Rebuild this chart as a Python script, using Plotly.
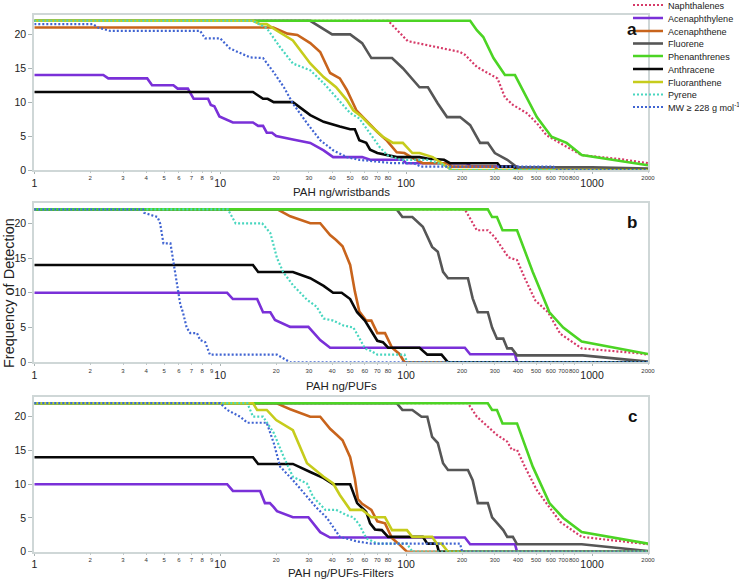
import plotly.graph_objects as go

# ---------------- data (x = PAH ng, y = frequency of detection) ----------------
NAMES = ["Naphthalenes", "Acenaphthylene", "Acenaphthene", "Fluorene", "Phenanthrenes",
         "Anthracene", "Fluoranthene", "Pyrene", "MW ≥ 228 g mol<sup>-1</sup>"]
COLORS = ["#d63a68", "#7a30d8", "#c8641c", "#565656", "#4cd424",
          "#080808", "#c6cc1c", "#48d6bf", "#4064d2"]
DASHES = ["2px,2px", "solid", "solid", "solid", "solid", "solid", "solid", "2px,2px", "2px,2px"]

# Panel a: wristbands
a_naph_x = [1, 80, 102, 130, 195, 207, 240, 310, 340, 375, 445, 505, 570, 700, 880, 1420, 2000]
a_naph_y = [22, 22, 19, 18.4, 17.4, 17, 15.2, 13.5, 10.7, 9.6, 8.4, 6.9, 5.1, 3.7, 2.2, 1.6, 1.0]
a_acy_x = [1, 2.35, 2.5, 4.05, 4.3, 5.6, 5.9, 6.7, 7.2, 8.6, 8.9, 9.3, 9.9, 11.7, 15, 16, 17, 17.8, 19, 20,
           24.6, 30.5, 36, 40.5, 58, 64, 96, 100, 212, 221, 395, 400, 2000]
a_acy_y = [14, 14, 13.5, 13.5, 12.5, 12.5, 12, 12, 10.5, 10.5, 9.6, 9.4, 7.9, 7, 7, 6.5, 6.5, 5.5, 5.5, 5,
           4.5, 4, 2.9, 1.9, 1.9, 1.5, 1.5, 1, 1, 0.6, 0.5, 0, 0]
a_ace_x = [1, 16.4, 19.3, 23, 26, 30.5, 34.5, 39, 44, 48, 54, 70, 79, 89, 98, 108, 123, 166, 176, 300, 310, 2000]
a_ace_y = [21, 21, 21, 20.1, 19.9, 18.7, 17.4, 14.3, 13.5, 11.8, 8.8, 5.6, 4.3, 2.6, 2.5, 1.8, 1, 1, 0.5, 0.5, 0, 0]
a_flu_x = [1, 30.5, 40, 50, 58, 65, 84, 96, 118, 131, 148, 166, 195, 221, 250, 275, 300, 350, 395, 1000, 2000]
a_flu_y = [22, 22, 20, 20, 18.7, 16.5, 16.5, 15, 12.2, 12.2, 9.8, 7.8, 7.8, 6.6, 4, 4, 2.5, 1.5, 0.4, 0.4, 0.2]
a_phe_x = [1, 221, 240, 260, 295, 340, 385, 425, 505, 605, 730, 880, 2000]
a_phe_y = [22, 22, 20.6, 19.6, 16.5, 14, 14, 11.8, 7.8, 4.9, 4.0, 2.2, 0.7]
a_ant_x = [1, 15, 17, 18, 19.4, 24.6, 30.5, 36, 44, 50, 53, 56, 61, 64, 70, 79, 89, 118, 130, 160, 172,
           310, 320, 380, 390, 2000]
a_ant_y = [11.5, 11.5, 10.5, 10.5, 10, 10, 8.1, 7.1, 6.4, 6, 6, 4.4, 4, 3, 2.5, 2.2, 1.9, 1.9, 1.7, 1.5, 1,
           1, 0.5, 0.5, 0, 0]
a_fla_x = [1, 15, 16.4, 17.8, 20, 24.6, 30.5, 36, 42, 48, 52, 58, 64, 75, 85, 96, 108, 118, 139, 155, 176, 2000]
a_fla_y = [22, 22, 21.5, 21.5, 20.6, 19.1, 15.7, 13.7, 12.2, 10.3, 8.8, 7.8, 6.6, 4.9, 4, 4, 2.5, 2.5, 1.9, 1, 0, 0]
a_pyr_x = [1, 15, 17.8, 21, 24.6, 30.5, 36, 42, 50, 56, 64, 72, 79, 85, 93, 130, 160, 176, 2000]
a_pyr_y = [22, 22, 20.9, 18.1, 15.7, 14.7, 12.8, 10.8, 8.4, 7.6, 5.4, 3.4, 2.2, 1.9, 1.5, 1.5, 0.7, 0, 0]
a_mw_x = [1, 2.07, 2.2, 2.56, 7.8, 8.3, 10, 11.3, 14.5, 17, 19.4, 22, 24.6, 29.3, 34.5, 40.5, 48, 56, 85, 110,
          120, 620, 640, 2000]
a_mw_y = [21.5, 21.5, 21, 20.5, 20.5, 19.4, 19.4, 17.9, 16.6, 16.5, 14.4, 12.2, 9.8, 6.9, 4.4, 2.9, 1.9, 1.5, 1, 1,
          0.5, 0.5, 0, 0]

# Panel b: PUFs (no Fluoranthene curve visible)
b_naph_x = [1, 207, 240, 275, 300, 333, 355, 395, 435, 495, 580, 675, 880, 1780, 2000]
b_naph_y = [22, 22, 19, 19, 18, 16.1, 15.1, 14.7, 12.1, 8.9, 7.2, 4.1, 2, 1.3, 1.1]
b_acy_x = [1, 10.9, 11.7, 15.8, 17, 18.6, 19.7, 23.8, 29.8, 34.5, 39, 207, 221, 385, 395, 2000]
b_acy_y = [10, 10, 9.1, 9.1, 7.2, 7.2, 6.1, 5.1, 5.1, 3.2, 2.1, 2.1, 1.15, 1.15, 0, 0]
b_ace_x = [1, 20.3, 23.8, 30.5, 34.5, 39, 42, 45.5, 50, 53, 56, 61, 65, 70, 77, 84, 92, 98, 2000]
b_ace_y = [22, 22, 21, 20, 20, 18.3, 17.6, 16.7, 14, 10.2, 7.3, 6, 6, 4.2, 4.2, 2.1, 1.2, 0, 0]
b_flu_x = [1, 89, 95.5, 108, 123, 138, 148, 158, 168, 215, 228, 243, 275, 290, 308, 333, 350, 370, 395, 890, 2000]
b_flu_y = [22, 22, 20.9, 20.9, 19.5, 16.6, 15.9, 13, 12.1, 12.1, 9.2, 7.2, 7.2, 5, 3.4, 3.4, 2, 2, 1, 1, 0.1]
b_phe_x = [1, 275, 290, 308, 330, 395, 480, 590, 700, 880, 2000]
b_phe_y = [22, 22, 20.9, 20.9, 19, 19, 13, 7.2, 5, 3, 1.2]
b_ant_x = [1, 15, 16, 24.6, 30.5, 36, 40.5, 45, 50, 54.5, 60, 64, 67, 70, 75, 80, 118, 130, 155, 168, 2000]
b_ant_y = [14, 14, 13, 13, 12.1, 11, 10, 10, 9.1, 7.2, 6, 4.8, 3.9, 3.1, 2.9, 2.1, 2.1, 1.1, 1.1, 0, 0]
b_fla_x = []
b_fla_y = []
b_pyr_x = [1, 11, 12.1, 16.8, 18.6, 19.4, 20.2, 21.8, 24.6, 29.3, 33, 36, 40.5, 46, 52, 56, 60, 65, 70, 98, 101, 2000]
b_pyr_y = [22, 22, 20, 20, 18.6, 16.6, 15, 13, 11.1, 9, 8, 6.3, 6, 5.3, 5, 3.5, 2, 1.6, 1.1, 1.1, 0, 0]
b_mw_x = [1, 3.85, 3.9, 4.6, 4.75, 4.95, 5.4, 5.6, 5.9, 6.1, 6.3, 6.6, 6.9, 7.5, 7.8, 8.3, 8.8, 20.2, 23.8, 2000]
b_mw_y = [22, 22, 21.5, 20.9, 20, 17.1, 17.1, 14.4, 10.1, 8.3, 7.2, 5, 4.2, 4.2, 3.2, 2.9, 1.1, 1.1, 0, 0]

# Panel c: PUFs-Filters
c_naph_x = [1, 215, 240, 275, 308, 350, 370, 395, 435, 505, 570, 675, 880, 2000]
c_naph_y = [22, 22, 20, 18.5, 17.3, 16.3, 15.1, 15.1, 12.6, 9.1, 7.2, 4.4, 2.2, 1.1]
c_acy_x = [1, 10.9, 11.7, 16.4, 17.4, 18.5, 19.4, 20.2, 24.6, 29.8, 34.5, 39, 207, 221, 385, 395, 2000]
c_acy_y = [10, 10, 9, 9, 7.2, 7.2, 6.6, 6, 5.1, 5.1, 2.9, 2.1, 2.1, 1.1, 1.1, 0, 0]
c_ace_x = [1, 20, 23.8, 30.5, 34.5, 39, 42, 45.5, 50, 53, 55, 58, 65, 70, 77, 84, 90, 101, 2000]
c_ace_y = [22, 22, 21.1, 20, 20, 18.2, 17.4, 16.5, 14, 10.8, 7.8, 7.1, 6.2, 4.5, 4.2, 2.0, 1.3, 0, 0]
c_flu_x = [1, 89, 95.5, 108, 121, 130, 138, 148, 158, 168, 215, 228, 243, 275, 290, 308, 333, 350, 375, 395,
           880, 2000]
c_flu_y = [22, 22, 21, 21, 20, 20, 17, 16.1, 13.1, 12.1, 12.1, 10.6, 7.2, 7.2, 5.1, 4.2, 3.2, 2.2, 2.2, 1.1,
           1.1, 0.1]
c_phe_x = [1, 275, 290, 308, 330, 395, 480, 590, 700, 880, 2000]
c_phe_y = [22, 22, 21, 21, 19, 19, 12.6, 7.2, 5, 2.9, 1.2]
c_ant_x = [1, 15, 16, 24.6, 30.5, 36, 40.5, 50, 54.5, 61, 64, 68, 74, 80, 123, 130, 146, 150, 2000]
c_ant_y = [14, 14, 13, 13, 11.8, 10.9, 10, 10, 7.2, 5.9, 4.2, 3.3, 3.2, 2.2, 2.2, 1.2, 1.2, 0, 0]
c_fla_x = [1, 15, 15.8, 17.8, 20, 24.6, 29.3, 36, 40.5, 44, 50, 58, 65, 77, 84, 101, 108, 138, 146, 155, 168, 2000]
c_fla_y = [22, 22, 21, 21, 19.5, 18, 13.1, 11.1, 10.1, 8.4, 6.2, 6.2, 5.1, 5.1, 3.2, 3.2, 2.2, 2.2, 1.2, 1.2, 0, 0]
c_pyr_x = [1, 14, 15, 17, 19.4, 22, 24.6, 29.3, 31.6, 36.8, 42, 48, 52, 56, 61, 70, 101, 108, 2000]
c_pyr_y = [22, 22, 20, 20, 17.6, 14, 11.1, 10.1, 8.1, 6.2, 6.2, 5.4, 5.1, 4, 2, 1.2, 1.2, 0, 0]
c_mw_x = [1, 10, 10.9, 12.8, 14, 17.8, 19.4, 21, 24.6, 29.3, 33, 37.5, 40.5, 44, 55, 65, 195, 200, 2000]
c_mw_y = [22, 22, 21, 20, 19.1, 19.1, 16.1, 12.6, 10.6, 8.1, 6.5, 5, 3.7, 2.2, 1.5, 1.2, 1.2, 0, 0]

PANEL_A = [(a_naph_x, a_naph_y), (a_acy_x, a_acy_y), (a_ace_x, a_ace_y), (a_flu_x, a_flu_y), (a_phe_x, a_phe_y),
           (a_ant_x, a_ant_y), (a_fla_x, a_fla_y), (a_pyr_x, a_pyr_y), (a_mw_x, a_mw_y)]
PANEL_B = [(b_naph_x, b_naph_y), (b_acy_x, b_acy_y), (b_ace_x, b_ace_y), (b_flu_x, b_flu_y), (b_phe_x, b_phe_y),
           (b_ant_x, b_ant_y), (b_fla_x, b_fla_y), (b_pyr_x, b_pyr_y), (b_mw_x, b_mw_y)]
PANEL_C = [(c_naph_x, c_naph_y), (c_acy_x, c_acy_y), (c_ace_x, c_ace_y), (c_flu_x, c_flu_y), (c_phe_x, c_phe_y),
           (c_ant_x, c_ant_y), (c_fla_x, c_fla_y), (c_pyr_x, c_pyr_y), (c_mw_x, c_mw_y)]

X_MAJOR = [1, 10, 100, 1000]
X_MINOR = [2, 3, 4, 5, 6, 7, 8, 9, 20, 30, 40, 50, 60, 70, 80, 200, 300, 400, 500, 600, 700, 800, 2000]
X_MINOR_TEXT = ["2", "3", "4", "5", "6", "7", "8", "9", "20", "30", "40", "50", "60", "70", "80",
                "200", "300", "400", "500", "600", "700", "800", "2000"]
Y_TICKS = [0, 5, 10, 15, 20]
X_TITLES = ["PAH ng/wristbands", "PAH ng/PUFs", "PAH ng/PUFs-Filters"]
PANEL_LABELS = ["a", "b", "c"]
LEGEND_Y_PX = [5, 18, 31, 43.5, 56, 69, 82, 94.5, 107]

# ---------------- figure ----------------
W, H = 739, 580
FONT = "Liberation Sans, Arial, sans-serif"
X_DOM = [34.3 / W, 648 / W]
Y_DOMS = [(15, 170), (202.7, 362.3), (396.7, 551.7)]
Y_TOPS = [22.85, 22.96, 22.96]

fig = go.Figure()
for p, panel in enumerate([PANEL_A, PANEL_B, PANEL_C]):
    xa = "x" if p == 0 else f"x{p + 1}"
    ya = "y" if p == 0 else f"y{p + 1}"
    for i, (xs, ys) in enumerate(panel):
        if not xs:
            continue
        dotted = DASHES[i] != "solid"
        fig.add_trace(go.Scatter(
            x=xs, y=ys, mode="lines", name=NAMES[i],
            line=dict(color=COLORS[i], width=2.2 if dotted else 2.6, dash=DASHES[i]),
            xaxis=xa, yaxis=ya, showlegend=(p == 0),
            legend="legend" if i == 0 else f"legend{i + 1}",
            legendgroup=NAMES[i], hoverinfo="skip"))
    # empty carrier so the overlaid minor-label axis gets drawn
    fig.add_trace(go.Scatter(x=[], y=[], xaxis=f"x{p + 4}", yaxis=ya, showlegend=False, hoverinfo="skip"))

layout = dict(
    width=W, height=H, margin=dict(l=0, r=0, t=0, b=0, autoexpand=False),
    paper_bgcolor="white", plot_bgcolor="white",
    font=dict(family=FONT, color="#222"),
    annotations=[], showlegend=True,
)
for p in range(3):
    sfx = "" if p == 0 else str(p + 1)
    top_px, bot_px = Y_DOMS[p]
    ydom = [1 - bot_px / H, 1 - top_px / H]
    layout["xaxis" + sfx] = dict(
        type="log", range=[0, 3.30103], domain=X_DOM, anchor="y" + sfx,
        tickvals=X_MAJOR, ticktext=[str(v) for v in X_MAJOR], tickfont=dict(size=10.5, color="#222"),
        ticks="outside", ticklen=2, tickcolor="#aab4b4", ticklabelstandoff=0, tickangle=0,
        showline=True, linecolor="#cfd7d7", linewidth=2, mirror=True,
        showgrid=False, zeroline=False, fixedrange=True)
    layout["xaxis" + str(p + 4)] = dict(
        type="log", range=[0, 3.30103], domain=X_DOM, anchor="y" + sfx, overlaying="x" + sfx,
        tickvals=X_MINOR, ticktext=X_MINOR_TEXT, tickfont=dict(size=6, color="#333"), tickangle=0,
        ticks="outside", ticklen=2, tickcolor="#c0c8c8",
        showline=False, showgrid=False, zeroline=False, fixedrange=True)
    layout["yaxis" + sfx] = dict(
        range=[0, Y_TOPS[p]], domain=ydom, anchor="x" + sfx,
        tickvals=Y_TICKS, tickfont=dict(size=10.5, color="#222"),
        ticks="outside", ticklen=4, tickcolor="#aab4b4",
        showline=True, linecolor="#cfd7d7", linewidth=2, mirror=True,
        showgrid=False, zeroline=False, fixedrange=True)
    title_y = [192, 386, 573][p]
    layout["annotations"].append(dict(
        text=X_TITLES[p], x=341 / W, y=1 - title_y / H, xref="paper", yref="paper",
        xanchor="center", yanchor="middle", showarrow=False, font=dict(size=11.5, color="#222")))
    lab_y = [29, 222, 416][p]
    layout["annotations"].append(dict(
        text="<b>" + PANEL_LABELS[p] + "</b>", x=632 / W, y=1 - lab_y / H, xref="paper", yref="paper",
        xanchor="center", yanchor="middle", showarrow=False, font=dict(size=17, color="#111")))

layout["annotations"].append(dict(
    text="Frequency of Detection", x=9 / W, y=1 - 293 / H, xref="paper", yref="paper",
    xanchor="center", yanchor="middle", textangle=-90, showarrow=False, font=dict(size=14.5, color="#222")))

for i in range(9):
    key = "legend" if i == 0 else f"legend{i + 1}"
    layout[key] = dict(
        x=628 / W, y=1 - LEGEND_Y_PX[i] / H, xanchor="left", yanchor="middle",
        bgcolor="rgba(0,0,0,0)", borderwidth=0, font=dict(size=9.1, color="#222", family=FONT),
        itemclick=False, itemdoubleclick=False)

fig.update_layout(**layout)
fig.write_html("out.html", config={"displayModeBar": False},
               post_script="document.body.style.margin='0';")
